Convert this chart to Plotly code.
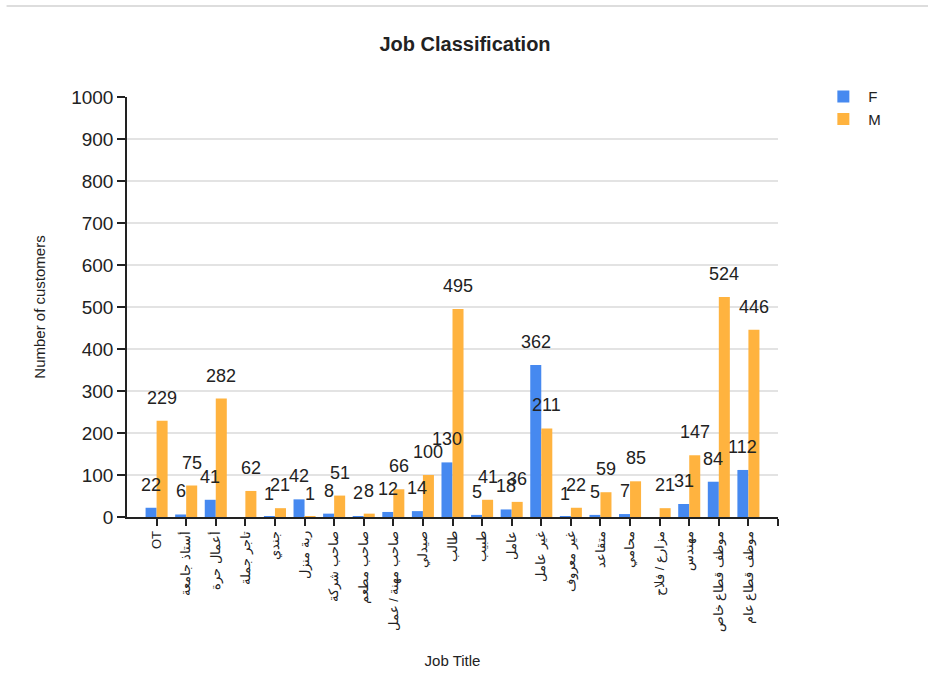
import plotly.graph_objects as go

# ---------------- data ----------------
categories = [
    "OT", "أستاذ جامعة", "أعمال حرة", "تاجر جملة", "جندي", "ربة منزل",
    "صاحب شركة", "صاحب مطعم", "صاحب مهنة / عمل", "صيدلي", "طالب", "طبيب",
    "عامل", "غير عامل", "غير معروف", "متقاعد", "محامي", "مزارع / فلاح",
    "مهندس", "موظف قطاع خاص", "موظف قطاع عام",
]
female = [22, 6, 41, None, 1, 42, 8, 2, 12, 14, 130, 5, 18, 362, 1, 5, 7, None, 31, 84, 112]
male = [229, 75, 282, 62, 21, 1, 51, 8, 66, 100, 495, 41, 36, 211, 22, 59, 85, 21, 147, 524, 446]
y_tick_values = list(range(0, 1001, 100))

BLUE = "#4689F0"
ORANGE = "#FFB33F"
FONT = "Liberation Sans, Arial, sans-serif"
TEXT = "#222222"
BARGAP = 0.255

x_idx = list(range(len(categories)))

fig = go.Figure()
fig.add_trace(go.Bar(name="F", x=x_idx, y=female, marker_color=BLUE, marker_line_width=0))
fig.add_trace(go.Bar(name="M", x=x_idx, y=male, marker_color=ORANGE, marker_line_width=0))

# value labels drawn above every bar (on top of all bars)
bar_w = (1 - BARGAP) / 2
for series, shift in ((female, -bar_w / 2), (male, bar_w / 2)):
    for i, v in enumerate(series):
        if v is None:
            continue
        fig.add_annotation(x=i + shift, y=v, xref="x", yref="y", text=str(v),
                           showarrow=False, yanchor="bottom", yshift=11,
                           font=dict(size=18, color=TEXT, family=FONT))

fig.update_layout(
    width=928, height=695,
    margin=dict(l=127, r=150, t=97, b=178, autoexpand=False),
    paper_bgcolor="white", plot_bgcolor="white",
    font=dict(family=FONT, color=TEXT),
    barmode="group", bargap=BARGAP, bargroupgap=0,
    title=dict(text="<b>Job Classification</b>", x=465 / 928, xref="container", xanchor="center",
               y=1 - 44 / 695, yref="container", yanchor="middle",
               font=dict(size=20, color=TEXT, family=FONT)),
    legend=dict(x=1.062, y=1.04, xanchor="left", yanchor="top",
                font=dict(size=15, color=TEXT, family=FONT), tracegroupgap=2,
                itemwidth=40),
    showlegend=True,
)

fig.update_xaxes(
    range=[-1, len(categories)],
    tickmode="array", tickvals=list(range(len(categories) + 1)),
    ticktext=categories + [""],
    tickangle=-90, tickfont=dict(size=13, color=TEXT, family=FONT),
    ticks="outside", ticklen=7, tickwidth=1.5, tickcolor="#222222",
    showline=True, linecolor="#222222", linewidth=1.5,
    showgrid=False, zeroline=False,
    title=dict(text="Job Title", font=dict(size=15, color=TEXT, family=FONT), standoff=24),
)
fig.update_yaxes(
    range=[0, 1000], tickmode="array", tickvals=y_tick_values,
    tickfont=dict(size=19, color=TEXT, family=FONT),
    ticks="outside", ticklen=8, tickwidth=1.5, tickcolor="#222222",
    showline=True, linecolor="#222222", linewidth=1.5,
    showgrid=True, gridcolor="#e3e3e3", gridwidth=1.5, zeroline=False,
    title=dict(text="Number of customers", font=dict(size=15, color=TEXT, family=FONT), standoff=22),
)

# thin grey page rule at the very top
fig.add_shape(type="line", xref="paper", yref="paper",
              x0=-0.185, x1=1.24, y0=(517 - 6) / 420, y1=(517 - 6) / 420,
              line=dict(color="#dddddd", width=2))

fig.write_html("out.html")
